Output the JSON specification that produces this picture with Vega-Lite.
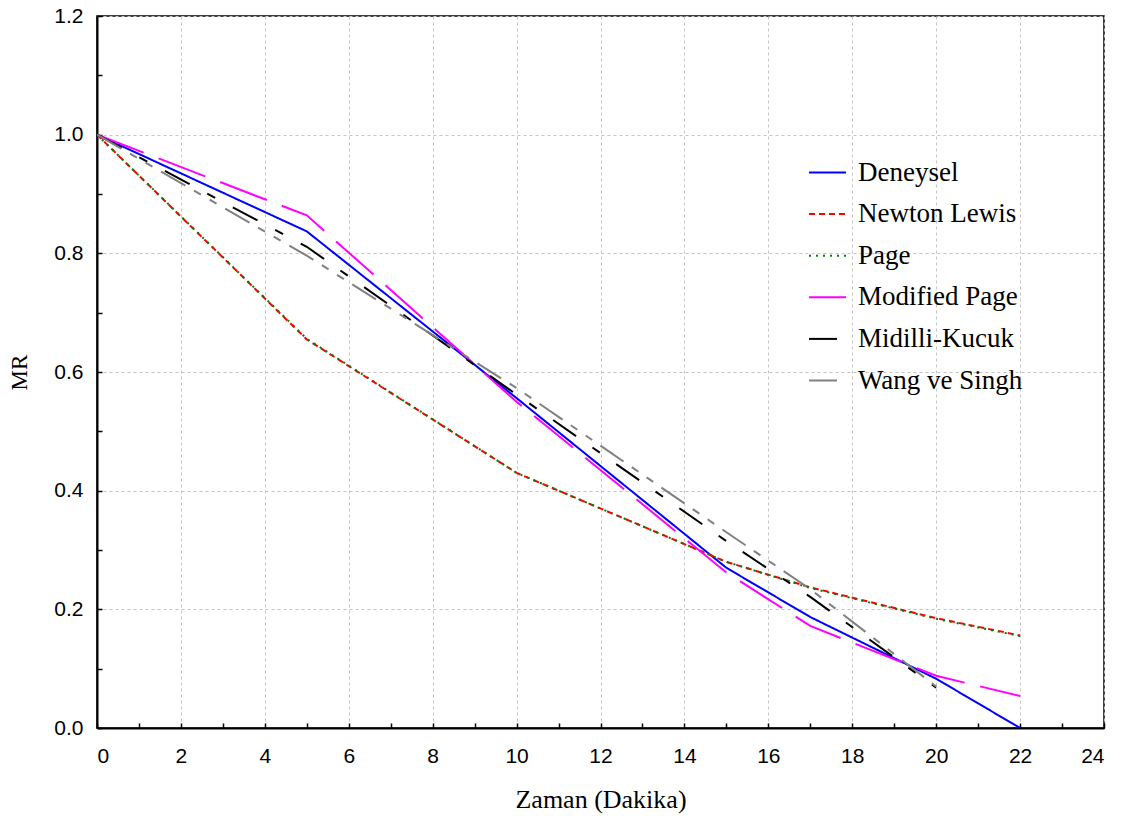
{
  "$schema": "https://vega.github.io/schema/vega-lite/v6.json",
  "autosize": {"type": "none"},
  "padding": {"left": 97, "top": 16, "right": 25, "bottom": 95},
  "width": 1007,
  "height": 712,
  "background": "white",
  "config": {
    "view": {"stroke": "black", "strokeWidth": 1.5},
    "axis": {
      "domainColor": "black",
      "domainWidth": 2,
      "tickColor": "black",
      "tickWidth": 1.5,
      "gridColor": "#c4c4c4",
      "gridDash": [3, 3],
      "gridWidth": 1,
      "labelColor": "black",
      "titleColor": "black"
    }
  },
  "data": {
    "values": [
      {"t": 0, "mr": 1.0, "s": "Deneysel"},
      {"t": 5, "mr": 0.837, "s": "Deneysel"},
      {"t": 10, "mr": 0.556, "s": "Deneysel"},
      {"t": 15, "mr": 0.27, "s": "Deneysel"},
      {"t": 17, "mr": 0.187, "s": "Deneysel"},
      {"t": 20, "mr": 0.083, "s": "Deneysel"},
      {"t": 22, "mr": 0.0, "s": "Deneysel"},
      {"t": 0, "mr": 1.0, "s": "Newton Lewis"},
      {"t": 5, "mr": 0.655, "s": "Newton Lewis"},
      {"t": 10, "mr": 0.43, "s": "Newton Lewis"},
      {"t": 15, "mr": 0.28, "s": "Newton Lewis"},
      {"t": 17, "mr": 0.237, "s": "Newton Lewis"},
      {"t": 20, "mr": 0.185, "s": "Newton Lewis"},
      {"t": 22, "mr": 0.156, "s": "Newton Lewis"},
      {"t": 0, "mr": 1.0, "s": "Page"},
      {"t": 5, "mr": 0.656, "s": "Page"},
      {"t": 10, "mr": 0.43, "s": "Page"},
      {"t": 15, "mr": 0.28, "s": "Page"},
      {"t": 17, "mr": 0.236, "s": "Page"},
      {"t": 20, "mr": 0.184, "s": "Page"},
      {"t": 22, "mr": 0.155, "s": "Page"},
      {"t": 0, "mr": 1.0, "s": "Modified Page"},
      {"t": 5, "mr": 0.864, "s": "Modified Page"},
      {"t": 10, "mr": 0.55, "s": "Modified Page"},
      {"t": 15, "mr": 0.262, "s": "Modified Page"},
      {"t": 17, "mr": 0.172, "s": "Modified Page"},
      {"t": 20, "mr": 0.088, "s": "Modified Page"},
      {"t": 22, "mr": 0.054, "s": "Modified Page"},
      {"t": 0, "mr": 1.0, "s": "Midilli-Kucuk"},
      {"t": 5, "mr": 0.811, "s": "Midilli-Kucuk"},
      {"t": 10, "mr": 0.562, "s": "Midilli-Kucuk"},
      {"t": 15, "mr": 0.315, "s": "Midilli-Kucuk"},
      {"t": 17, "mr": 0.221, "s": "Midilli-Kucuk"},
      {"t": 20, "mr": 0.068, "s": "Midilli-Kucuk"},
      {"t": 0, "mr": 1.0, "s": "Wang ve Singh"},
      {"t": 5, "mr": 0.796, "s": "Wang ve Singh"},
      {"t": 10, "mr": 0.573, "s": "Wang ve Singh"},
      {"t": 15, "mr": 0.33, "s": "Wang ve Singh"},
      {"t": 17, "mr": 0.234, "s": "Wang ve Singh"},
      {"t": 20, "mr": 0.07, "s": "Wang ve Singh"}
    ]
  },
  "mark": {"type": "line", "strokeWidth": 2, "clip": true},
  "encoding": {
    "x": {
      "field": "t",
      "type": "quantitative",
      "scale": {"domain": [0, 24], "nice": false, "zero": false},
      "axis": {
        "title": "Zaman (Dakika)",
        "titleFont": "Liberation Serif",
        "titleFontSize": 26,
        "titleFontWeight": "normal",
        "titlePadding": 20,
        "values": [0,1,2,3,4,5,6,7,8,9,10,11,12,13,14,15,16,17,18,19,20,21,22,23,24],
        "labelExpr": "datum.value % 2 === 0 ? datum.label : ''",
        "labelFont": "Liberation Sans",
        "labelFontSize": 21,
        "labelPadding": 22,
        "tickSize": -5,
        "gridOpacity": {"condition": {"test": "datum.value % 2 === 0", "value": 1}, "value": 0}
      }
    },
    "y": {
      "field": "mr",
      "type": "quantitative",
      "scale": {"domain": [0, 1.2], "nice": false},
      "axis": {
        "title": "MR",
        "titleFont": "Liberation Serif",
        "titleFontSize": 23,
        "titleFontWeight": "normal",
        "titlePadding": 22,
        "values": [0,0.1,0.2,0.3,0.4,0.5,0.6,0.7,0.8,0.9,1.0,1.1,1.2],
        "labelExpr": "round(datum.value * 10) % 2 === 0 ? format(datum.value, '.1f') : ''",
        "labelFont": "Liberation Sans",
        "labelFontSize": 21,
        "labelPadding": 19,
        "tickSize": -5,
        "gridOpacity": {"condition": {"test": "round(datum.value * 10) % 2 === 0", "value": 1}, "value": 0}
      }
    },
    "color": {
      "field": "s",
      "type": "nominal",
      "scale": {
        "domain": ["Deneysel", "Newton Lewis", "Page", "Modified Page", "Midilli-Kucuk", "Wang ve Singh"],
        "range": ["#0000ff", "#ff0000", "#008000", "#ff00ff", "#000000", "#808080"]
      },
      "legend": {
        "title": null,
        "orient": "none",
        "legendX": 711,
        "legendY": 137,
        "labelFont": "Liberation Serif",
        "labelFontSize": 27,
        "labelColor": "black",
        "labelOffset": 11,
        "symbolType": "stroke",
        "symbolSize": 1369,
        "symbolStrokeWidth": 2,
        "rowPadding": 8.6,
        "labelLimit": 400
      }
    },
    "strokeDash": {
      "field": "s",
      "type": "nominal",
      "scale": {
        "domain": ["Deneysel", "Newton Lewis", "Page", "Modified Page", "Midilli-Kucuk", "Wang ve Singh"],
        "range": [[1, 0], [6, 4], [2, 5], [50, 16], [28, 20, 9, 20], [28, 10, 8, 10, 8, 10]]
      },
      "legend": null
    }
  }
}
